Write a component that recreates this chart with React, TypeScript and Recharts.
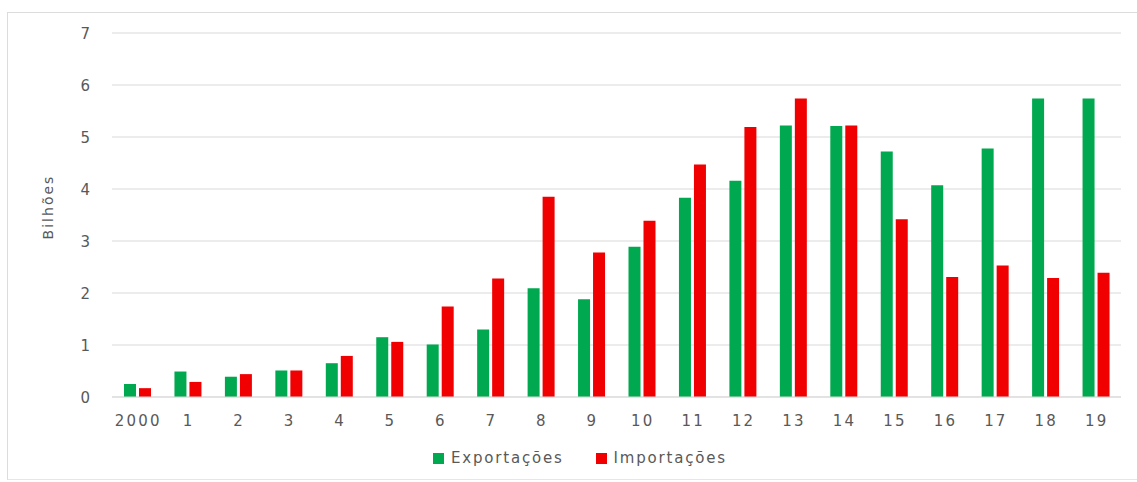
import React from 'react';
import { BarChart, Bar, XAxis, YAxis, CartesianGrid, Legend, Label } from 'recharts';

const years = ['2000', '1', '2', '3', '4', '5', '6', '7', '8', '9', '10', '11', '12', '13', '14', '15', '16', '17', '18', '19'];
const exportacoes = [0.25, 0.49, 0.39, 0.51, 0.65, 1.15, 1.01, 1.3, 2.09, 1.88, 2.89, 3.83, 4.16, 5.22, 5.21, 4.72, 4.07, 4.78, 5.74, 5.74];
const importacoes = [0.17, 0.29, 0.44, 0.51, 0.79, 1.06, 1.74, 2.28, 3.85, 2.78, 3.39, 4.47, 5.19, 5.74, 5.22, 3.42, 2.31, 2.53, 2.29, 2.39];
const yTicks = [0, 1, 2, 3, 4, 5, 6, 7];

const data = years.map((year, i) => ({
  year,
  Exportações: exportacoes[i],
  Importações: importacoes[i],
}));

const FONT = '"DejaVu Sans", sans-serif';
const TEXT = '#595959';
const GRID = '#d9d9d9';
const GREEN = '#00A94F';
const RED = '#F00000';

const XTick = (props: any) => {
  const { x, y, payload } = props;
  return (
    <text
      x={x + 1}
      y={y + 29}
      textAnchor="middle"
      fill={TEXT}
      style={{ fontFamily: FONT, fontSize: 15, letterSpacing: 2.2 }}
    >
      {payload.value}
    </text>
  );
};

const YTick = (props: any) => {
  const { x, y, payload } = props;
  return (
    <text
      x={x - 22}
      y={y + 5.5}
      textAnchor="end"
      fill={TEXT}
      style={{ fontFamily: FONT, fontSize: 15 }}
    >
      {payload.value}
    </text>
  );
};

// Rotated axis title, drawn just left of the tick labels
const AxisTitle = (props: any) => {
  const { viewBox, value } = props;
  const cx = viewBox.x + 1;
  const cy = viewBox.y + viewBox.height / 2 - 8;
  return (
    <text
      x={cx}
      y={cy}
      transform={`rotate(-90, ${cx}, ${cy})`}
      textAnchor="middle"
      fill={TEXT}
      style={{ fontFamily: FONT, fontSize: 14, letterSpacing: 2 }}
    >
      {value}
    </text>
  );
};

const LegendContent = (props: any) => {
  const { payload } = props;
  return (
    <div style={{ display: 'flex', alignItems: 'center', fontFamily: FONT, fontSize: 15, color: TEXT, letterSpacing: 1.8, whiteSpace: 'nowrap' }}>
      {(payload || []).map((entry: any, i: number) => (
        <div key={entry.value} style={{ display: 'flex', alignItems: 'center', marginLeft: i === 0 ? 0 : 32 }}>
          <span style={{ display: 'inline-block', width: 11, height: 11, background: entry.color, marginRight: 7 }} />
          <span>{entry.value}</span>
        </div>
      ))}
    </div>
  );
};

export default function App() {
  return (
    <div style={{ position: 'absolute', left: 0, top: 0, width: 1137, height: 482, overflow: 'hidden', background: '#fff' }}>
      <div
        style={{
          position: 'absolute',
          left: 7,
          top: 12,
          width: 1130,
          height: 466,
          borderLeft: '1px solid #dcdcdc',
          borderTop: '1px solid #dcdcdc',
          borderBottom: '1px solid #e6e6e6',
        }}
      />
      <div style={{ position: 'absolute', left: 0, top: 0 }}>
        <BarChart
          width={1137}
          height={482}
          data={data}
          margin={{ top: 33, right: 16, bottom: 45, left: 52 }}
          barSize={12}
          barGap={3}
        >
          <CartesianGrid horizontal vertical={false} stroke={GRID} strokeWidth={1} />
          <XAxis
            dataKey="year"
            height={40}
            axisLine={{ stroke: GRID }}
            tickLine={false}
            tickSize={0}
            tickMargin={0}
            interval={0}
            tick={<XTick />}
          />
          <YAxis
            width={60}
            domain={[0, 7]}
            ticks={yTicks}
            axisLine={false}
            tickLine={false}
            tickSize={0}
            tickMargin={0}
            interval={0}
            tick={<YTick />}
          >
            <Label value="Bilhões" content={<AxisTitle />} />
          </YAxis>
          <Legend
            verticalAlign="middle"
            align="center"
            layout="horizontal"
            wrapperStyle={{ left: 433, top: 449, width: 'auto', height: 20 }}
            content={<LegendContent />}
          />
          <Bar dataKey="Exportações" fill={GREEN} isAnimationActive={false} />
          <Bar dataKey="Importações" fill={RED} isAnimationActive={false} />
        </BarChart>
      </div>
    </div>
  );
}
